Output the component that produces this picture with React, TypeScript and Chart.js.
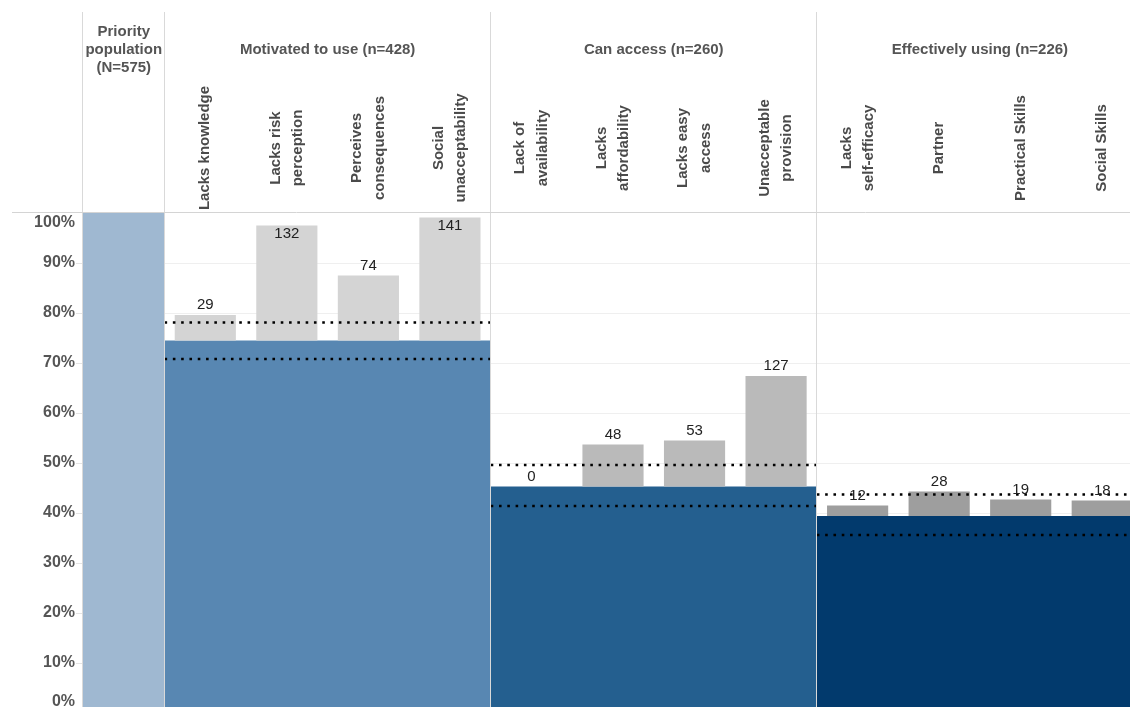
import React, { useEffect, useRef } from "react";
import { Chart, registerables } from "chart.js";

Chart.register(...registerables);

// ---------- data ----------
const categories: string[] = [
  "Priority population",
  "Lacks knowledge",
  "Lacks risk perception",
  "Perceives consequences",
  "Social unacceptability",
  "Lack of availability",
  "Lacks affordability",
  "Lacks easy access",
  "Unacceptable provision",
  "Lacks self-efficacy",
  "Partner",
  "Practical Skills",
  "Social Skills",
];

const categoryLines: string[][] = [
  [],
  ["Lacks knowledge"],
  ["Lacks risk", "perception"],
  ["Perceives", "consequences"],
  ["Social", "unacceptability"],
  ["Lack of", "availability"],
  ["Lacks", "affordability"],
  ["Lacks easy", "access"],
  ["Unacceptable", "provision"],
  ["Lacks", "self-efficacy"],
  ["Partner"],
  ["Practical Skills"],
  ["Social Skills"],
];

const priorityTitle: string[] = ["Priority", "population", "(N=575)"];
const groupTitles: string[] = [
  "Motivated to use (n=428)",
  "Can access (n=260)",
  "Effectively using (n=226)",
];

const priorityValue = 100;
const groupBase: number[] = [74.4, 45.2, 39.3];
const barTops: (number | null)[] = [
  null, 79.5, 97.4, 87.4, 99.0, 45.2, 53.6, 54.4, 67.3, 41.4, 44.2, 42.6, 42.4,
];
const barCounts: (number | null)[] = [
  null, 29, 132, 74, 141, 0, 48, 53, 127, 12, 28, 19, 18,
];
const ciUpper: number[] = [78.0, 49.5, 43.6];
const ciLower: number[] = [70.7, 41.3, 35.5];
const yTicks: number[] = [0, 10, 20, 30, 40, 50, 60, 70, 80, 90, 100];

// ---------- styles ----------
const priorityColor = "#9fb8d1";
const groupColors = ["#5887b2", "#245f8f", "#023a6d"];
const grayColors = ["#d4d4d4", "#bababa", "#9e9e9e"];
const FONT = "'Liberation Sans', Arial, sans-serif";

const groupOf = (i: number) => Math.floor((i - 1) / 4);

const decorPlugin = {
  id: "decor",
  beforeDatasetsDraw(chart: any) {
    const { ctx, chartArea, scales } = chart;
    const y = scales.y;
    ctx.save();
    ctx.lineWidth = 1;
    yTicks.forEach((t) => {
      if (t === 100) return;
      const py = Math.round(y.getPixelForValue(t)) + 0.5;
      ctx.strokeStyle = "#efefef";
      ctx.beginPath();
      ctx.moveTo(chartArea.left, py);
      ctx.lineTo(chartArea.right, py);
      ctx.stroke();
      ctx.strokeStyle = "#e4e4e4";
      ctx.beginPath();
      ctx.moveTo(chartArea.left - 7, py);
      ctx.lineTo(chartArea.left, py);
      ctx.stroke();
    });
    ctx.restore();
  },
  afterDatasetsDraw(chart: any) {
    const { ctx, chartArea, scales, width, height } = chart;
    const x = scales.x;
    const xl = scales.xl;
    const y = scales.y;
    ctx.save();

    // dividers
    ctx.strokeStyle = "#d9d9d9";
    ctx.lineWidth = 1;
    [0, 1, 5, 9, 13].forEach((v) => {
      const px = Math.round(xl.getPixelForValue(v)) - 0.5;
      ctx.beginPath();
      ctx.moveTo(px, 12);
      ctx.lineTo(px, height);
      ctx.stroke();
    });
    // top header line
    ctx.strokeStyle = "#d4d4d4";
    const topY = Math.round(y.getPixelForValue(100)) - 0.5;
    ctx.beginPath();
    ctx.moveTo(12, topY);
    ctx.lineTo(width, topY);
    ctx.stroke();

    // data labels
    const gi = chart.data.datasets.findIndex((d: any) => d.label === "gray");
    const meta = chart.getDatasetMeta(gi);
    ctx.font = `15px ${FONT}`;
    ctx.fillStyle = "#222";
    ctx.textAlign = "center";
    ctx.textBaseline = "middle";
    meta.data.forEach((el: any, i: number) => {
      const c = barCounts[i];
      if (c === null || c === undefined) return;
      const top = Math.min(el.y, el.base);
      let ly = top - 10;
      if (ly - 8 < chartArea.top) ly = top + 8;
      ctx.fillText(String(c), el.x, ly);
    });

    // header titles
    ctx.fillStyle = "#555";
    ctx.font = `bold 15px ${FONT}`;
    const pcx = (xl.getPixelForValue(0) + xl.getPixelForValue(1)) / 2;
    priorityTitle.forEach((s, j) => ctx.fillText(s, pcx, 32 + j * 18));
    groupTitles.forEach((s, g) => {
      const cx = (xl.getPixelForValue(1 + 4 * g) + xl.getPixelForValue(5 + 4 * g)) / 2;
      ctx.fillText(s, cx, 50);
    });

    // rotated category labels
    ctx.fillStyle = "#4a4a4a";
    categoryLines.forEach((lines, i) => {
      if (!lines.length) return;
      const cx = x.getPixelForValue(i);
      lines.forEach((s, j) => {
        const off = (j - (lines.length - 1) / 2) * 22.5;
        ctx.save();
        ctx.translate(cx + off, 148);
        ctx.rotate(-Math.PI / 2);
        ctx.fillText(s, 0, 0);
        ctx.restore();
      });
    });

    // y tick labels (clamped inside the visible area)
    ctx.fillStyle = "#555";
    ctx.font = `bold 16px ${FONT}`;
    ctx.textAlign = "right";
    yTicks.forEach((t) => {
      let py = y.getPixelForValue(t);
      py = Math.max(chartArea.top + 10, Math.min(702, py));
      ctx.fillText(`${t}%`, chartArea.left - 8, py);
    });

    ctx.restore();
  },
};

export default function App() {
  const ref = useRef<HTMLCanvasElement | null>(null);

  useEffect(() => {
    const canvas = ref.current;
    if (!canvas) return;

    const grayData = categories.map((_, i) =>
      i === 0 || barTops[i] === null ? null : [groupBase[groupOf(i)], barTops[i] as number]
    );
    const grayBg = categories.map((_, i) => (i === 0 ? "transparent" : grayColors[groupOf(i)]));

    const datasets: any[] = [];
    // dotted CI lines (top)
    groupBase.forEach((_, g) => {
      [ciUpper[g], ciLower[g]].forEach((v) => {
        datasets.push({
          type: "line",
          xAxisID: "xl",
          yAxisID: "y",
          data: [
            { x: 1 + 4 * g, y: v },
            { x: 5 + 4 * g, y: v },
          ],
          borderColor: "#000",
          borderWidth: 2.6,
          borderDash: [2.6, 5.7],
          pointRadius: 0,
          fill: false,
          order: 0,
        });
      });
    });
    // gray bars
    datasets.push({
      label: "gray",
      type: "bar",
      xAxisID: "x",
      yAxisID: "y",
      data: grayData,
      backgroundColor: grayBg,
      borderWidth: 0,
      grouped: false,
      barPercentage: 0.75,
      categoryPercentage: 1,
      order: 1,
    });
    // priority area
    datasets.push({
      type: "line",
      xAxisID: "xl",
      yAxisID: "y",
      data: [
        { x: 0, y: priorityValue },
        { x: 1, y: priorityValue },
      ],
      borderWidth: 0,
      borderColor: "transparent",
      backgroundColor: priorityColor,
      pointRadius: 0,
      fill: "origin",
      order: 2,
    });
    // group base areas
    groupBase.forEach((b, g) => {
      datasets.push({
        type: "line",
        xAxisID: "xl",
        yAxisID: "y",
        data: [
          { x: 1 + 4 * g, y: b },
          { x: 5 + 4 * g, y: b },
        ],
        borderWidth: 0,
        borderColor: "transparent",
        backgroundColor: groupColors[g],
        pointRadius: 0,
        fill: "origin",
        order: 2,
      });
    });

    const chart = new Chart(canvas, {
      type: "bar",
      data: { labels: categories, datasets },
      options: {
        animation: false,
        responsive: false,
        devicePixelRatio: 1,
        layout: { padding: { left: 83, right: 7, top: 212.5, bottom: 7.5 } },
        plugins: { legend: { display: false }, tooltip: { enabled: false } },
        scales: {
          x: { type: "category", offset: true, display: false, grid: { offset: true } },
          xl: {
            type: "linear",
            min: 0,
            max: 13,
            offset: false,
            display: false,
            grid: { offset: false },
            bounds: "data",
          },
          y: { type: "linear", min: 0, max: 100, display: false },
        },
      },
      plugins: [decorPlugin],
    } as any);

    return () => chart.destroy();
  }, []);

  return (
    <div
      style={{
        position: "absolute",
        left: 0,
        top: 0,
        width: 1130,
        height: 707,
        overflow: "hidden",
        background: "#fff",
      }}
    >
      <canvas ref={ref} width={1150} height={720} style={{ width: 1150, height: 720, display: "block" }} />
    </div>
  );
}
